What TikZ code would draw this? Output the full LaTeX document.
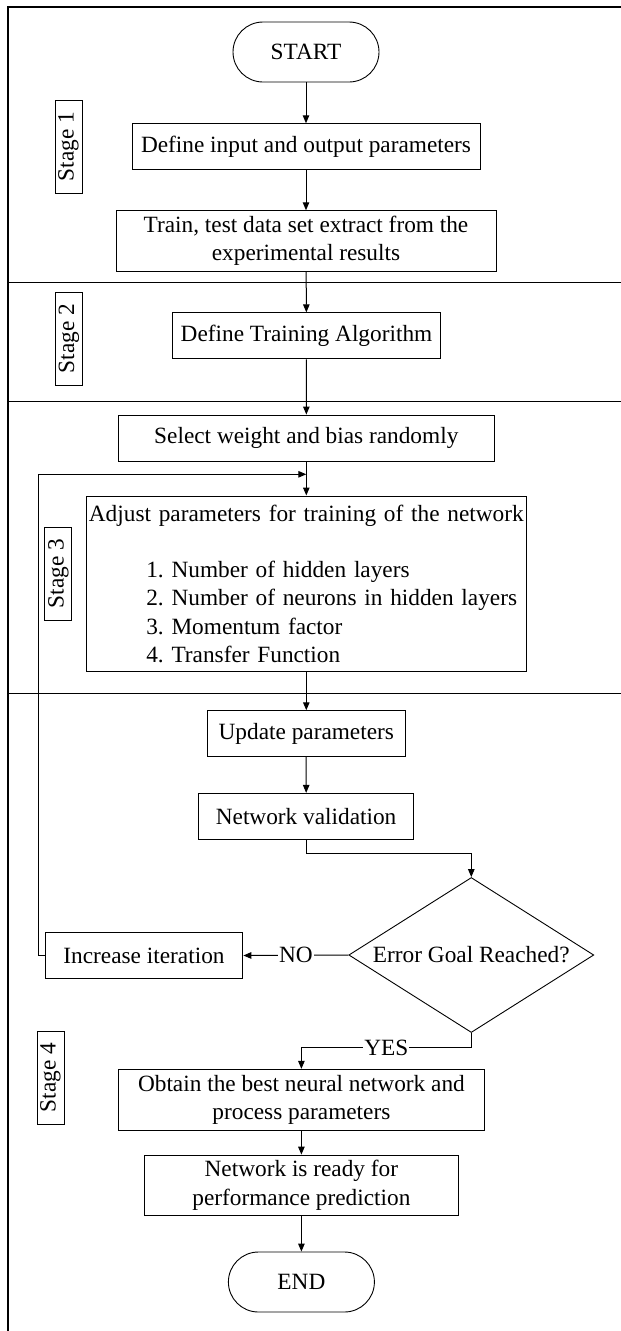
\documentclass[tikz,border=0pt]{standalone}
\usepackage{fontspec}
\setmainfont{Liberation Serif}
\usetikzlibrary{arrows.meta,shapes.geometric}

\begin{document}
\frenchspacing
\begin{tikzpicture}[x=1pt,y=-1pt,
  every node/.style={font=\fontsize{23.3}{28.3}\selectfont},
  box/.style={draw, line width=0.9pt, inner sep=0pt, align=center},
  term/.style={box, rounded corners=30pt, minimum width=146pt, minimum height=60pt},
  stagebox/.style={draw, line width=0.9pt, inner sep=0pt, rotate=90,
                   minimum width=93pt, minimum height=27pt},
  arr/.style={line width=1pt, -{Triangle[length=8pt,width=6.5pt]}},
  divider/.style={line width=1.5pt},
  frame/.style={line width=2.2pt},
  lbl/.style={fill=white, inner sep=1pt}
]
\useasboundingbox (0,0) rectangle (621,1331);

% outer frame and stage dividers
\draw[frame] (621,7.3) -- (8,7.3) -- (8,1331);
\draw[divider] (8,282.7) -- (621,282.7);
\draw[divider] (8,401.7) -- (621,401.7);
\draw[divider] (8,693.3) -- (621,693.3);

% stage tags
\node[stagebox] (s1) at (68.5,146.7) {Stage 1};
\node[stagebox] (s2) at (69,338.8) {Stage 2};
\node[stagebox] (s3) at (58.4,573.7) {Stage 3};
\node[stagebox] (s4) at (50.5,1077.7) {Stage 4};

% flow steps
\node[term] (start) at (306,52) {START};
\node[box, minimum width=348pt, minimum height=46pt] (def) at (306,146.7) {Define input and output parameters};
\node[box, minimum width=380pt, minimum height=60.6pt] (train) at (306,241) {Train, test data set extract from the\\experimental results};
\node[box, minimum width=268pt, minimum height=46pt] (alg) at (306.5,335.8) {Define Training Algorithm};
\node[box, minimum width=376pt, minimum height=46pt] (sel) at (306.3,438) {Select weight and bias randomly};
\node[box, minimum width=440pt, minimum height=175.7pt, text width=440pt, align=left] (adj) at (306.3,583.8)
  {\makebox[440pt][c]{Adjust parameters for training of the network}\\[28.3pt]
   \hspace*{60pt}1. Number of hidden layers\\
   \hspace*{60pt}2. Number of neurons in hidden layers\\
   \hspace*{60pt}3. Momentum factor\\
   \hspace*{60pt}4. Transfer Function};
\node[box, minimum width=197.6pt, minimum height=45.6pt] (upd) at (306.3,733.5) {Update parameters};
\node[box, minimum width=214.7pt, minimum height=46pt] (val) at (306.1,816.3) {Network validation};
\node[draw, line width=0.9pt, shape=diamond, aspect=1.58, inner sep=0pt,
      minimum width=245pt, minimum height=155pt] (dec) at (471.3,955) {Error Goal Reached?};
\node[box, minimum width=197.8pt, minimum height=45.6pt] (inc) at (144,955.5) {Increase iteration};
\node[box, minimum width=366pt, minimum height=61pt] (obt) at (301.4,1099.8) {Obtain the best neural network and\\process parameters};
\node[box, minimum width=313.6pt, minimum height=60.3pt] (rdy) at (301.4,1185.2) {Network is ready for\\performance prediction};
\node[term] (end) at (301.4,1282) {END};

% loop-back junction
\coordinate (join) at (306.3,474.3);
\coordinate (loopL) at (38,474.3);

% connectors
\draw[arr] (start) -- (def);
\draw[arr] (def) -- (train);
\draw[arr] (train) -- (alg);
\draw[arr] (alg) -- (sel);
\draw[arr] (sel) -- (adj);
\draw[arr] (adj) -- (upd);
\draw[arr] (upd) -- (val);
\draw[arr] (val.south) -- ++(0,14) -| (dec.north);
\draw[arr] (dec.west) -- node[lbl] {NO} (inc.east);
\draw[arr] (inc.west) -| (loopL) -- (join);
\draw[arr] (dec.south) -- ++(0,15) -| node[pos=0.25, lbl] {YES} (obt.north);
\draw[arr] (obt) -- (rdy);
\draw[arr] (rdy) -- (end);
\end{tikzpicture}
\end{document}
